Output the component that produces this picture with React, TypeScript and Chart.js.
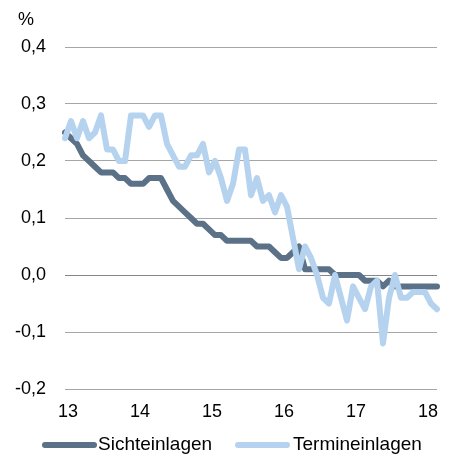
import React, { useEffect, useRef } from 'react';
import { Chart, registerables } from 'chart.js';

Chart.register(...registerables);

const yearLabels = ['13', '14', '15', '16', '17', '18'];
const monthCount = 63; // Jan 2013 .. Mar 2018
const seriesNames = ['Sichteinlagen', 'Termineinlagen'];

const sichteinlagen = [
  0.25, 0.24, 0.23, 0.21, 0.20, 0.19, 0.18, 0.18, 0.18, 0.17, 0.17, 0.16,
  0.16, 0.16, 0.17, 0.17, 0.17, 0.15, 0.13, 0.12, 0.11, 0.10, 0.09, 0.09,
  0.08, 0.07, 0.07, 0.06, 0.06, 0.06, 0.06, 0.06, 0.05, 0.05, 0.05, 0.04,
  0.03, 0.03, 0.04, 0.05, 0.01, 0.01, 0.01, 0.01, 0.01, 0.00, 0.00, 0.00,
  0.00, 0.00, -0.01, -0.01, -0.01, -0.02, -0.01, -0.02, -0.02, -0.02, -0.02, -0.02,
  -0.02, -0.02, -0.02,
];

const termineinlagen = [
  0.24, 0.27, 0.24, 0.27, 0.24, 0.25, 0.28, 0.22, 0.22, 0.20, 0.20, 0.28,
  0.28, 0.28, 0.26, 0.28, 0.28, 0.23, 0.21, 0.19, 0.19, 0.21, 0.21, 0.23,
  0.18, 0.20, 0.17, 0.13, 0.16, 0.22, 0.22, 0.14, 0.17, 0.13, 0.14, 0.11,
  0.14, 0.12, 0.065, 0.01, 0.05, 0.03, 0.00, -0.04, -0.05, 0.00, -0.04, -0.08,
  -0.02, -0.04, -0.06, -0.02, -0.01, -0.12, -0.04, 0.00, -0.04, -0.04, -0.03, -0.03,
  -0.03, -0.05, -0.06,
];

const yMin = -0.2;
const yMax = 0.4;
const yStep = 0.1;

const monthLabels: string[] = [];
yearLabels.forEach((y) => {
  for (let m = 1; m <= 12; m++) monthLabels.push(`${m}/${y}`);
});
const categories = monthLabels.slice(0, monthCount);

const FONT = '"Liberation Sans", Arial, sans-serif';

const extrasPlugin = {
  id: 'extras',
  afterDraw(chart: any) {
    const ctx = chart.ctx;
    ctx.save();
    ctx.fillStyle = '#000000';
    ctx.textBaseline = 'middle';
    ctx.textAlign = 'left';
    ctx.font = `18px ${FONT}`;
    ctx.fillText('%', 18, 20);

    const pos = [
      { x: 45, tx: 98 },
      { x: 238, tx: 293 },
    ];
    const ly = 445;
    chart.data.datasets.forEach((ds: any, i: number) => {
      const p = pos[i];
      ctx.strokeStyle = ds.borderColor;
      ctx.lineWidth = 6;
      ctx.lineCap = 'round';
      ctx.beginPath();
      ctx.moveTo(p.x, ly);
      ctx.lineTo(p.x + 49, ly);
      ctx.stroke();
      ctx.font = `19px ${FONT}`;
      ctx.fillStyle = '#000000';
      ctx.fillText(ds.label, p.tx, ly);
    });
    ctx.restore();
  },
};

export default function App() {
  const canvasRef = useRef<HTMLCanvasElement | null>(null);

  useEffect(() => {
    if (!canvasRef.current) return;
    const chart = new Chart(canvasRef.current, {
      type: 'line',
      data: {
        labels: categories,
        datasets: [
          {
            label: seriesNames[0],
            data: sichteinlagen,
            borderColor: '#5b7187',
            backgroundColor: '#5b7187',
            borderWidth: 6,
            pointRadius: 0,
            tension: 0,
            borderCapStyle: 'round',
            borderJoinStyle: 'round',
            order: 1,
          },
          {
            label: seriesNames[1],
            data: termineinlagen,
            borderColor: '#b5d3ef',
            backgroundColor: '#b5d3ef',
            borderWidth: 6,
            pointRadius: 0,
            tension: 0,
            borderCapStyle: 'round',
            borderJoinStyle: 'round',
            order: 0,
          },
        ],
      },
      options: {
        responsive: false,
        animation: false,
        events: [],
        layout: { padding: { top: 47, right: 13, bottom: 0, left: 0 } },
        plugins: {
          legend: { display: false },
          tooltip: { enabled: false },
          title: { display: false },
        },
        scales: {
          x: {
            type: 'category',
            offset: false,
            grid: { display: false, drawTicks: false },
            border: { display: false },
            ticks: {
              autoSkip: false,
              maxRotation: 0,
              minRotation: 0,
              padding: 12,
              labelOffset: 3,
              color: '#000000',
              font: { family: FONT, size: 18 },
              callback: (_v: any, index: number) =>
                index % 12 === 0 ? yearLabels[index / 12] : '',
            },
            afterFit: (scale: any) => {
              scale.height = 456 - 389;
            },
          },
          y: {
            min: yMin,
            max: yMax,
            grid: {
              drawTicks: false,
              lineWidth: 1,
              color: (c: any) =>
                c.tick && Math.abs(c.tick.value) < 1e-9 ? '#868686' : '#a6a6a6',
            },
            border: { display: false },
            ticks: {
              stepSize: yStep,
              padding: 19,
              color: '#000000',
              font: { family: FONT, size: 18 },
              callback: (v: any) => {
                const n = Math.abs(v) < 1e-9 ? 0 : Number(v);
                return n.toFixed(1).replace('.', ',');
              },
            },
            afterFit: (scale: any) => {
              scale.width = 65;
            },
          },
        },
      },
      plugins: [extrasPlugin],
    });
    return () => chart.destroy();
  }, []);

  return (
    <div style={{ position: 'fixed', left: 0, top: 0, width: 450, height: 456, background: '#ffffff' }}>
      <canvas ref={canvasRef} width={450} height={456} style={{ display: 'block' }} />
    </div>
  );
}
